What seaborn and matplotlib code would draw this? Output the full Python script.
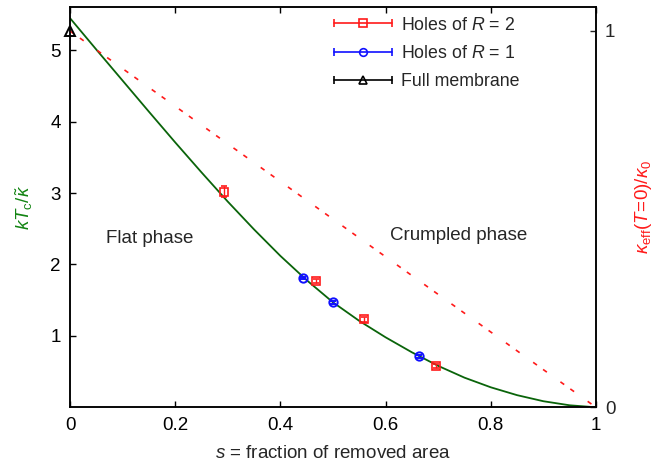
import matplotlib
matplotlib.use("Agg")
import matplotlib.pyplot as plt
from matplotlib.lines import Line2D
from matplotlib.legend_handler import HandlerBase
import seaborn as sns

# Critical temperature curve kT_c / kappa~ versus removed-area fraction s
s_curve = [0.00, 0.05, 0.10, 0.15, 0.20, 0.25, 0.30, 0.35, 0.40, 0.45, 0.50,
           0.55, 0.60, 0.65, 0.70, 0.75, 0.80, 0.85, 0.90, 0.95, 1.00]
ktc_curve = [5.45, 5.01, 4.575, 4.14, 3.71, 3.29, 2.88, 2.49, 2.12, 1.78, 1.47,
             1.21, 0.98, 0.77, 0.58, 0.415, 0.28, 0.17, 0.085, 0.028, 0.00]

# Zero-temperature effective rigidity kappa_eff / kappa_0 (right axis)
s_kappa = [0.0, 1.0]
kappa_ratio = [1.0, 0.0]

# Simulation results
s_r2 = [0.292, 0.468, 0.559, 0.695]
ktc_r2 = [3.02, 1.77, 1.23, 0.575]
err_r2 = [0.075, 0.03, 0.03, 0.025]

s_r1 = [0.443, 0.500, 0.663]
ktc_r1 = [1.81, 1.47, 0.715]
err_r1 = [0.02, 0.02, 0.02]

s_full = [0.0]
kappa_full = [1.0]

x_ticks = [0, 0.2, 0.4, 0.6, 0.8, 1]
x_tick_labels = ["0", "0.2", "0.4", "0.6", "0.8", "1"]
y_ticks = [1, 2, 3, 4, 5]
y2_ticks = [0, 1]

legend_labels = ["Holes of $R$ = 2", "Holes of $R$ = 1", "Full membrane"]

GREEN = "#0a640a"
GREEN_LABEL = "#128412"
RED = "#ff1a1a"
BLUE = "#1010ff"

sns.set_theme(style="ticks")
plt.rcParams["font.family"] = ["Liberation Sans", "DejaVu Sans"]
plt.rcParams["mathtext.fontset"] = "custom"
plt.rcParams["mathtext.rm"] = "Liberation Sans"
plt.rcParams["mathtext.it"] = "Liberation Sans:italic"
plt.rcParams["mathtext.bf"] = "Liberation Sans:bold"
plt.rcParams["axes.linewidth"] = 1.1

fig = plt.figure(figsize=(6.65, 4.66), dpi=100)
ax = fig.add_axes([70 / 665, 1 - 407.3 / 466, 526 / 665, 400.6 / 466])
ax2 = ax.twinx()

# theory curve
sns.lineplot(x=s_curve, y=ktc_curve, ax=ax, color=GREEN, linewidth=1.3,
             estimator=None, sort=False, legend=False)

# kappa_eff dashed line on the right axis
sns.lineplot(x=s_kappa, y=kappa_ratio, ax=ax2, color=RED, linewidth=1.2,
             estimator=None, sort=False, legend=False, dashes=False)
ax2.lines[-1].set_dashes((2.8, 4.5, 2.8, 10))

ax.errorbar(s_r2, ktc_r2, yerr=err_r2, fmt="s", ms=6, mfc="none", mec=RED,
            mew=1.2, ecolor=RED, elinewidth=1.0, capsize=2.5, capthick=1.0,
            zorder=5)
ax.errorbar(s_r1, ktc_r1, yerr=err_r1, fmt="o", ms=6, mfc="none", mec=BLUE,
            mew=1.4, ecolor=BLUE, elinewidth=1.0, capsize=2.0, capthick=1.0,
            zorder=5)
ax2.plot(s_full, kappa_full, marker="^", ms=7.5, mfc="none", mec="black",
         mew=1.4, ls="none", clip_on=False, zorder=6)

ax.set_xlim(0, 1)
ax.set_ylim(0, 5.61)
ax2.set_ylim(0, 5.61 / 5.27)

ax.set_xticks(x_ticks)
ax.set_xticklabels(x_tick_labels)
ax.set_yticks(y_ticks)
ax2.set_yticks(y2_ticks)
ax2.set_yticklabels(["0", "1"])

ax.tick_params(axis="both", direction="in", length=4.5, width=1.0,
               labelsize=13.5, colors="black", pad=6.5)
ax.tick_params(axis="x", top=True, pad=7)
ax.tick_params(axis="y", right=False)
ax2.tick_params(axis="y", direction="in", length=4.5, width=1.0,
                labelsize=13.5, pad=6.5)

for a in (ax, ax2):
    for sp in a.spines.values():
        sp.set_visible(True)
        sp.set_linewidth(1.1)
        sp.set_color("black")

ax.set_xlabel("$s$ = fraction of removed area", fontsize=13.5, labelpad=8)
ax.set_ylabel(r"$kT_\mathrm{c}/\tilde{\kappa}$", fontsize=13.5, color=GREEN_LABEL)
ax.yaxis.set_label_coords(-35 / 526, 0.5)
ax2.set_ylabel(r"$\kappa_\mathrm{eff}(T\!=\!0)/\kappa_0$", fontsize=13.5,
               color=RED, rotation=90)
ax2.yaxis.set_label_coords(1 + 37 / 526, 0.5)

ax.text(0.068, 2.37, "Flat phase", fontsize=13.5, va="center", ha="left")
ax.text(0.608, 2.41, "Crumpled phase", fontsize=13.5, va="center", ha="left")


class CappedRowHandler(HandlerBase):
    """Legend key: horizontal bar with end caps and a marker in the middle."""

    def __init__(self, color, marker, ms):
        super().__init__()
        self.color = color
        self.marker = marker
        self.ms = ms

    def create_artists(self, legend, orig_handle, xdescent, ydescent,
                       width, height, fontsize, trans):
        x0, x1 = -xdescent, width - xdescent
        y = (height - ydescent) / 2
        bar = Line2D([x0, x1], [y, y], color=self.color, lw=1.2)
        caps = Line2D([x0, x1], [y, y], color=self.color, ls="none",
                      marker="|", ms=6, mew=1.2)
        mark = Line2D([(x0 + x1) / 2], [y], color=self.color, ls="none",
                      marker=self.marker, ms=self.ms, mfc="none",
                      mec=self.color, mew=1.2)
        for art in (bar, caps, mark):
            art.set_transform(trans)
        return [bar, caps, mark]


h_r2 = Line2D([], [], color=RED)
h_r1 = Line2D([], [], color=BLUE)
h_full = Line2D([], [], color="black")
leg = ax.legend([h_r2, h_r1, h_full], legend_labels,
                handler_map={h_r2: CappedRowHandler(RED, "s", 6),
                             h_r1: CappedRowHandler(BLUE, "o", 5.5),
                             h_full: CappedRowHandler("black", "^", 6)},
                loc="upper left", bbox_to_anchor=(0.502, 0.975),
                frameon=False, fontsize=12.8, handlelength=3.26,
                handletextpad=0.5, labelspacing=0.62, borderpad=0,
                borderaxespad=0)

fig.savefig("out.png", dpi=100)
